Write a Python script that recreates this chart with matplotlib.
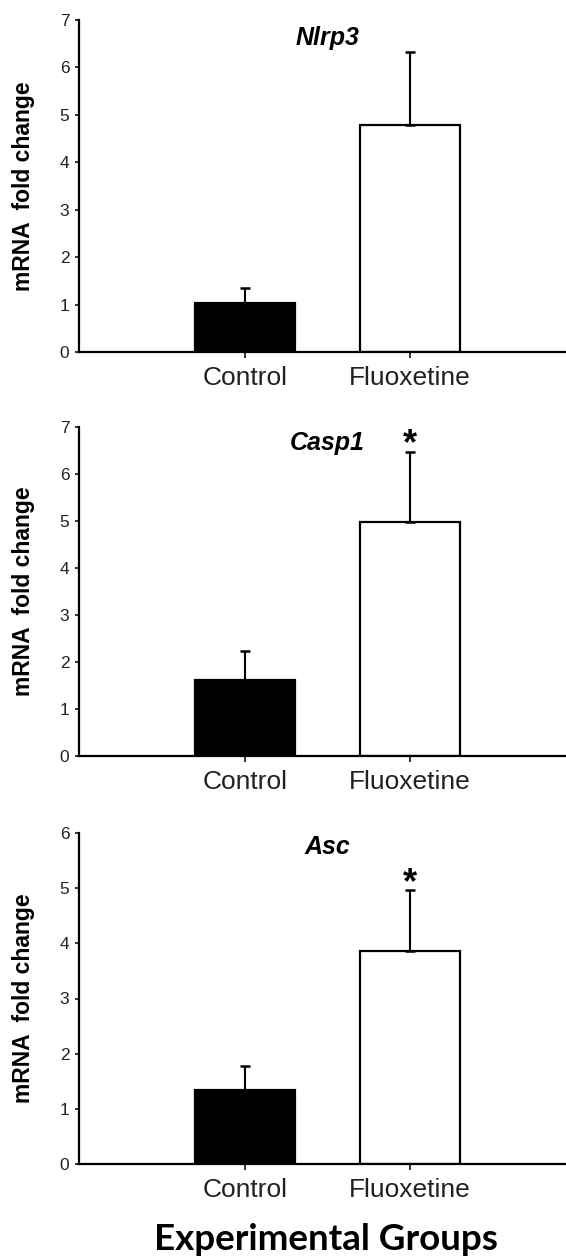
import matplotlib
matplotlib.use("Agg")
import matplotlib.pyplot as plt

# ---- data ----
groups = ["Control", "Fluoxetine"]
genes = ["Nlrp3", "Casp1", "Asc"]
nlrp3_mean = [1.04, 4.78]
nlrp3_err = [0.30, 1.55]
casp1_mean = [1.62, 4.97]
casp1_err = [0.61, 1.50]
asc_mean = [1.34, 3.86]
asc_err = [0.43, 1.10]
ymax = [7, 7, 6]
yticks_list = [list(range(0, 8)), list(range(0, 8)), list(range(0, 7))]
significant = [[False, False], [False, True], [False, True]]
bar_colors = ["black", "white"]
xlabel = "Experimental Groups"
ylabel = "mRNA  fold change"

means = [nlrp3_mean, casp1_mean, asc_mean]
errs = [nlrp3_err, casp1_err, asc_err]

W, H = 566, 1260
fig = plt.figure(figsize=(W / 100, H / 100), dpi=100)

# panel pixel extents (top, bottom)
panels_px = [(20, 352), (427, 756), (833, 1164)]
left_px = 79
title_y = [6.47, 6.51, 5.62]

for i, (top, bot) in enumerate(panels_px):
    ax = fig.add_axes([left_px / W, 1 - bot / H, (W - left_px) / W, (bot - top) / H])
    x = list(range(len(groups)))
    ax.bar(x, means[i], width=0.61, color=bar_colors, edgecolor="black",
           linewidth=1.6, zorder=2)
    ax.errorbar(x, means[i], yerr=[[0] * len(groups), errs[i]], fmt="none",
                ecolor="black", elinewidth=1.5, capsize=3.3, capthick=1.8, zorder=3)
    ax.set_xlim(-1.006, 1.945)
    ax.set_ylim(0, ymax[i])
    ax.set_yticks(yticks_list[i])
    ax.set_xticks(x)
    ax.set_xticklabels(groups, fontsize=19, family="Liberation Sans")
    for lab in ax.get_yticklabels():
        lab.set_fontsize(12.5)
        lab.set_family("Liberation Sans")
    for s in ["top", "right"]:
        ax.spines[s].set_visible(False)
    for s in ["left", "bottom"]:
        ax.spines[s].set_linewidth(1.6)
    ax.tick_params(axis="y", length=3, width=1.3, pad=4, colors="#222222")
    ax.tick_params(axis="x", length=4, width=1.3, pad=6, colors="#222222")
    ax.set_ylabel(ylabel, fontsize=16.5, fontweight="bold", family="Liberation Sans")
    ax.yaxis.set_label_coords(-0.090, 0.5)
    ax.text(0.5, title_y[i], genes[i], fontsize=18, fontweight="bold", fontstyle="italic",
            family="Liberation Sans", ha="center", va="baseline")
    for j, sig in enumerate(significant[i]):
        if sig:
            ax.annotate("*", xy=(j, means[i][j] + errs[i][j]), xytext=(0, -7.5),
                        textcoords="offset points", fontsize=26, fontweight="bold",
                        family="Liberation Sans", ha="center", va="bottom")

fig.text(326 / W, 1 - 1240 / H, xlabel, fontsize=26.5, fontweight="bold",
         family="Lato", ha="center", va="center")

fig.savefig("out.png", dpi=100)
